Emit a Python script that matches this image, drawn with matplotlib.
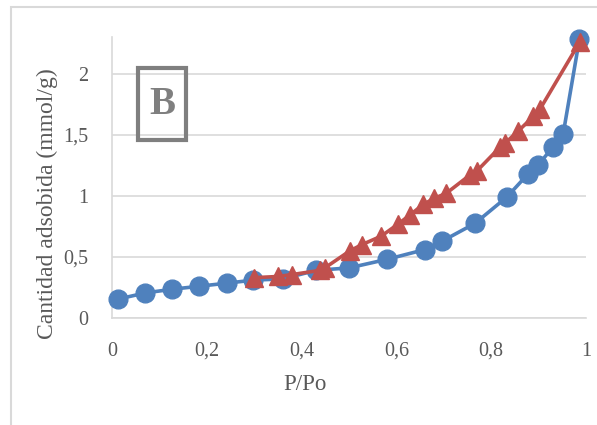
import matplotlib
matplotlib.use("Agg")
import matplotlib.pyplot as plt
from matplotlib.patches import Rectangle
from matplotlib.ticker import FuncFormatter

# Adsorption branch (blue circles)
ads_x = [0.013, 0.07, 0.126, 0.184, 0.242, 0.298, 0.361, 0.43, 0.50, 0.58,
         0.66, 0.697, 0.766, 0.833, 0.878, 0.899, 0.930, 0.952, 0.986]
ads_y = [0.155, 0.205, 0.235, 0.26, 0.285, 0.31, 0.32, 0.39, 0.41, 0.48,
         0.56, 0.63, 0.775, 0.99, 1.18, 1.25, 1.40, 1.51, 2.28]

# Desorption branch (red triangles)
des_x = [0.30, 0.351, 0.379, 0.439, 0.449, 0.502, 0.527, 0.568, 0.604, 0.629,
         0.657, 0.68, 0.705, 0.755, 0.769, 0.819, 0.829, 0.857, 0.889, 0.903, 0.987]
des_y = [0.33, 0.34, 0.355, 0.39, 0.41, 0.55, 0.60, 0.67, 0.77, 0.845,
         0.93, 0.98, 1.02, 1.17, 1.20, 1.40, 1.43, 1.53, 1.65, 1.71, 2.26]

x_ticks = [0, 0.2, 0.4, 0.6, 0.8, 1.0]
y_ticks = [0, 0.5, 1.0, 1.5, 2.0]

plt.rcParams['font.family'] = ['Liberation Serif', 'DejaVu Serif']

W, H = 597, 425
fig = plt.figure(figsize=(W / 100, H / 100), dpi=100)

# outer frame
fig.patches.append(Rectangle((11 / W, -0.1), 1.2, 1 - 7 / H + 0.1,
                             transform=fig.transFigure, fill=False,
                             edgecolor='#D9D9D9', linewidth=1.5))

ax = fig.add_axes([112 / W, 1 - 318 / H, (586 - 112) / W, (318 - 37) / H])
ax.set_xlim(0, 1)
ax.set_ylim(0, 2.3)

ax.plot(ads_x, ads_y, color='#4F81BD', linewidth=2.6, marker='o',
        markersize=13.5, zorder=3, clip_on=False)
ax.plot(des_x, des_y, color='#C0504D', linewidth=2.6, marker='^',
        markersize=13.5, zorder=4, clip_on=False)

def fmt(v, pos):
    s = ('%g' % v)
    return s.replace('.', ',')

ax.set_xticks(x_ticks)
ax.set_yticks(y_ticks)
ax.xaxis.set_major_formatter(FuncFormatter(fmt))
ax.yaxis.set_major_formatter(FuncFormatter(fmt))
ax.tick_params(axis='both', length=0, labelsize=14.5, colors='#595959')
ax.tick_params(axis='x', pad=17)
ax.tick_params(axis='y', pad=17)

ax.grid(axis='y', color='#D9D9D9', linewidth=1.2)
ax.set_axisbelow(True)
for s in ['top', 'right']:
    ax.spines[s].set_visible(False)
for s in ['left', 'bottom']:
    ax.spines[s].set_color('#D9D9D9')
    ax.spines[s].set_linewidth(1.2)

fig.text(305 / W, 1 - 384 / H, 'P/Po', ha='center', va='center',
         fontsize=16.5, color='#595959')
fig.text(47 / W, 1 - 204 / H, 'Cantidad adsobida (mmol/g)', ha='center',
         va='center', rotation=90, fontsize=17, color='#595959')

# "B" label box
fig.patches.append(Rectangle((138 / W, 1 - 140 / H), 48 / W, 72 / H,
                             transform=fig.transFigure, fill=False,
                             edgecolor='#7F7F7F', linewidth=3, zorder=5))
fig.text(162 / W, 1 - 104 / H, 'B', ha='center', va='center',
         fontsize=28, fontweight='bold', color='#7F7F7F')

fig.savefig('out.png', dpi=100)
